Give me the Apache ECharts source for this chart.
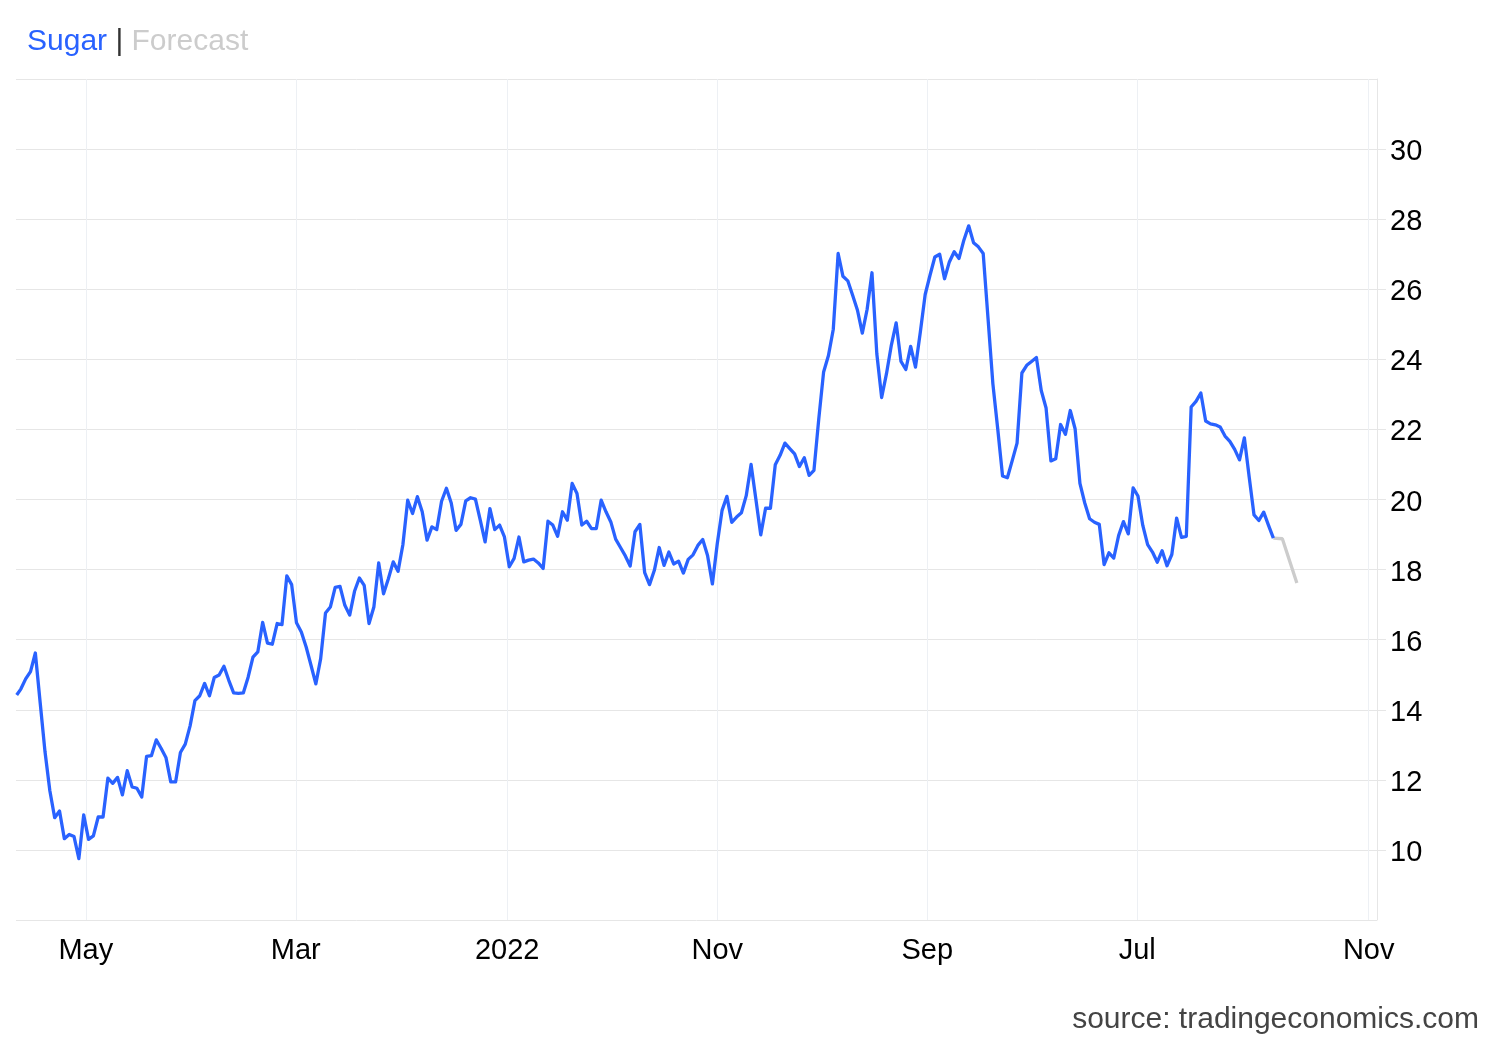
<!DOCTYPE html>
<html>
<head>
<meta charset="utf-8">
<title>Sugar</title>
<script src="https://cdn.jsdelivr.net/npm/echarts@6/dist/echarts.min.js"></script>
<style>
  html, body { margin: 0; padding: 0; background: #fff; }
  #chart { width: 1500px; height: 1040px; }
</style>
</head>
<body>
<div id="chart"></div>
<script>
// weekly closes, US cents per pound
const priceDates = [
  '2020-01-22', '2020-01-28', '2020-02-04', '2020-02-11', '2020-02-18', '2020-02-25', '2020-03-03', '2020-03-10',
  '2020-03-17', '2020-03-24', '2020-03-31', '2020-04-07', '2020-04-14', '2020-04-21', '2020-04-28', '2020-05-05',
  '2020-05-12', '2020-05-19', '2020-05-26', '2020-06-02', '2020-06-09', '2020-06-16', '2020-06-23', '2020-06-30',
  '2020-07-07', '2020-07-14', '2020-07-21', '2020-07-28', '2020-08-04', '2020-08-11', '2020-08-18', '2020-08-25',
  '2020-09-01', '2020-09-08', '2020-09-15', '2020-09-22', '2020-09-29', '2020-10-06', '2020-10-13', '2020-10-20',
  '2020-10-27', '2020-11-03', '2020-11-10', '2020-11-17', '2020-11-24', '2020-12-01', '2020-12-08', '2020-12-15',
  '2020-12-22', '2020-12-29',
  '2021-01-05', '2021-01-12', '2021-01-19', '2021-01-26', '2021-02-02', '2021-02-09', '2021-02-16', '2021-02-23',
  '2021-03-02', '2021-03-09', '2021-03-16', '2021-03-23', '2021-03-30', '2021-04-06', '2021-04-13', '2021-04-20',
  '2021-04-27', '2021-05-04', '2021-05-11', '2021-05-18', '2021-05-25', '2021-06-01', '2021-06-08', '2021-06-15',
  '2021-06-22', '2021-06-29', '2021-07-06', '2021-07-13', '2021-07-20', '2021-07-27', '2021-08-03', '2021-08-10',
  '2021-08-17', '2021-08-24', '2021-08-31', '2021-09-07', '2021-09-14', '2021-09-21', '2021-09-28', '2021-10-05',
  '2021-10-12', '2021-10-19', '2021-10-26', '2021-11-02', '2021-11-09', '2021-11-16', '2021-11-23', '2021-11-30',
  '2021-12-07', '2021-12-14', '2021-12-21', '2021-12-28',
  '2022-01-04', '2022-01-11', '2022-01-18', '2022-01-25', '2022-02-01', '2022-02-08', '2022-02-15', '2022-02-22',
  '2022-03-01', '2022-03-08', '2022-03-15', '2022-03-22', '2022-03-29', '2022-04-05', '2022-04-12', '2022-04-19',
  '2022-04-26', '2022-05-03', '2022-05-10', '2022-05-17', '2022-05-24', '2022-05-31', '2022-06-07', '2022-06-14',
  '2022-06-21', '2022-06-28', '2022-07-05', '2022-07-12', '2022-07-19', '2022-07-26', '2022-08-02', '2022-08-09',
  '2022-08-16', '2022-08-23', '2022-08-30', '2022-09-06', '2022-09-13', '2022-09-20', '2022-09-27', '2022-10-04',
  '2022-10-11', '2022-10-18', '2022-10-25', '2022-11-01', '2022-11-08', '2022-11-15', '2022-11-22', '2022-11-29',
  '2022-12-06', '2022-12-13', '2022-12-20', '2022-12-27',
  '2023-01-03', '2023-01-10', '2023-01-17', '2023-01-24', '2023-01-31', '2023-02-07', '2023-02-14', '2023-02-21',
  '2023-02-28', '2023-03-07', '2023-03-14', '2023-03-21', '2023-03-28', '2023-04-04', '2023-04-11', '2023-04-18',
  '2023-04-25', '2023-05-02', '2023-05-09', '2023-05-16', '2023-05-23', '2023-05-30', '2023-06-06', '2023-06-13',
  '2023-06-20', '2023-06-27', '2023-07-04', '2023-07-11', '2023-07-18', '2023-07-25', '2023-08-01', '2023-08-08',
  '2023-08-15', '2023-08-22', '2023-08-29', '2023-09-05', '2023-09-12', '2023-09-19', '2023-09-26', '2023-10-03',
  '2023-10-10', '2023-10-17', '2023-10-24', '2023-10-31', '2023-11-07', '2023-11-14', '2023-11-21', '2023-11-28',
  '2023-12-05', '2023-12-12', '2023-12-19', '2023-12-26',
  '2024-01-02', '2024-01-09', '2024-01-16', '2024-01-23', '2024-01-30', '2024-02-06', '2024-02-13', '2024-02-20',
  '2024-02-27', '2024-03-05', '2024-03-12', '2024-03-19', '2024-03-26', '2024-04-02', '2024-04-09', '2024-04-16',
  '2024-04-23', '2024-04-30', '2024-05-07', '2024-05-14', '2024-05-21', '2024-05-28', '2024-06-04', '2024-06-11',
  '2024-06-18', '2024-06-25', '2024-07-02', '2024-07-09', '2024-07-16', '2024-07-23', '2024-07-30', '2024-08-06',
  '2024-08-13', '2024-08-20', '2024-08-27', '2024-09-03', '2024-09-10', '2024-09-17', '2024-09-24', '2024-10-01',
  '2024-10-08', '2024-10-15', '2024-10-22', '2024-10-29', '2024-11-05', '2024-11-12', '2024-11-19', '2024-11-26',
  '2024-12-03', '2024-12-10', '2024-12-17', '2024-12-24', '2024-12-31',
  '2025-01-07', '2025-01-14'
];

const prices = [
  14.42, 14.59, 14.88, 15.09, 15.62, 14.2, 12.8, 11.69,
  10.92, 11.11, 10.32, 10.44, 10.38, 9.75, 11.0, 10.3,
  10.4, 10.94, 10.94, 12.05, 11.9, 12.07, 11.57, 12.26,
  11.8, 11.76, 11.51, 12.67, 12.69, 13.14, 12.9, 12.64,
  11.94, 11.94, 12.78, 13.02, 13.54, 14.26, 14.4, 14.75,
  14.4, 14.92, 14.99, 15.24, 14.84, 14.48, 14.47, 14.48,
  14.93, 15.5,
  15.65, 16.49, 15.9, 15.87, 16.46, 16.43, 17.82, 17.57,
  16.48, 16.22, 15.79, 15.27, 14.74, 15.46, 16.76, 16.93,
  17.49, 17.52, 16.98, 16.7, 17.38, 17.76, 17.55, 16.46,
  16.93, 18.19, 17.31, 17.74, 18.22, 17.95, 18.71, 19.98,
  19.6, 20.08, 19.65, 18.84, 19.22, 19.14, 19.95, 20.32,
  19.9, 19.12, 19.29, 19.96, 20.05, 20.01, 19.41, 18.79,
  19.74, 19.14, 19.27, 18.93,
  18.08, 18.32, 18.93, 18.22, 18.27, 18.3, 18.19, 18.03,
  19.38, 19.27, 18.95, 19.65, 19.41, 20.46, 20.17, 19.27,
  19.38, 19.17, 19.17, 19.98, 19.65, 19.36, 18.87, 18.63,
  18.39, 18.1, 19.08, 19.29, 17.91, 17.57, 17.98, 18.63,
  18.12, 18.5, 18.16, 18.24, 17.9, 18.29, 18.42, 18.69,
  18.86, 18.4, 17.59, 18.73, 19.69, 20.09, 19.35, 19.5,
  19.62, 20.11, 21.0, 20.0,
  18.99, 19.75, 19.75, 20.99, 21.26, 21.61, 21.45, 21.3,
  20.94, 21.19, 20.69, 20.83, 22.3, 23.64, 24.11, 24.86,
  27.02, 26.37, 26.24, 25.83, 25.4, 24.75, 25.43, 26.47,
  24.16, 22.91, 23.59, 24.4, 25.04, 23.94, 23.71, 24.37,
  23.78, 24.78, 25.85, 26.4, 26.92, 27.0, 26.3, 26.78,
  27.07, 26.88, 27.4, 27.81, 27.33, 27.21, 27.02, 25.16,
  23.3, 22.02, 20.67, 20.62,
  21.11, 21.61, 23.61, 23.83, 23.94, 24.05, 23.11, 22.61,
  21.1, 21.16, 22.14, 21.86, 22.54, 22.02, 20.46, 19.9,
  19.45, 19.35, 19.29, 18.14, 18.48, 18.33, 18.97, 19.37,
  19.02, 20.33, 20.1, 19.26, 18.71, 18.5, 18.21, 18.54,
  18.11, 18.43, 19.47, 18.92, 18.95, 22.64, 22.8, 23.04,
  22.24, 22.16, 22.13, 22.07, 21.81, 21.66, 21.43, 21.13,
  21.76, 20.64, 19.56, 19.4, 19.64,
  19.26, 18.9
];

const forecastDates = ['2025-01-14', '2025-01-27', '2025-02-17'];
const forecastValues = [18.9, 18.88, 17.62];

const tickDates = ['2020-05-01', '2021-03-01', '2022-01-01', '2022-11-01', '2023-09-01', '2024-07-01', '2025-06-01'];
const tickLabels = ['May', 'Mar', '2022', 'Nov', 'Sep', 'Jul', 'Nov'];

const FONT = 'Arial, "Liberation Sans", sans-serif';
const BLUE = '#2962ff';
const DAY = 86400000;

const toTime = d => +echarts.time.parse(d);
const tickTimes = tickDates.map(toTime);

const chart = echarts.init(document.getElementById('chart'), null, { renderer: 'canvas' });

chart.setOption({
  animation: false,
  backgroundColor: '#fff',
  title: [
    {
      text: '{a|Sugar} {b||} {c|Forecast}',
      left: 27,
      top: 27,
      padding: 0,
      textStyle: {
        fontFamily: FONT,
        fontSize: 30,
        fontWeight: 'normal',
        rich: {
          a: { color: BLUE, fontSize: 30, fontFamily: FONT },
          b: { color: '#333', fontSize: 30, fontFamily: FONT },
          c: { color: '#cccccc', fontSize: 30, fontFamily: FONT }
        }
      }
    },
    {
      text: 'source: tradingeconomics.com',
      right: 21,
      top: 1005,
      padding: 0,
      textStyle: { fontFamily: FONT, fontSize: 30, fontWeight: 'normal', color: '#444' }
    }
  ],
  grid: { left: 16, right: 123, top: 79, bottom: 120, outerBoundsMode: 'none' },
  xAxis: {
    type: 'value',
    min: toTime('2020-01-21'),
    max: toTime('2025-06-13'),
    axisLine: { show: false },
    axisTick: { show: false, customValues: tickTimes },
    splitLine: { show: true, lineStyle: { color: '#edf0f4', width: 1 } },
    axisLabel: {
      customValues: tickTimes,
      color: '#000',
      fontFamily: FONT,
      fontSize: 29,
      margin: 16,
      formatter: value => {
        const i = tickTimes.findIndex(t => Math.abs(t - value) < DAY);
        return i >= 0 ? tickLabels[i] : '';
      }
    }
  },
  yAxis: {
    type: 'value',
    position: 'right',
    min: 8,
    max: 32,
    interval: 2,
    axisLine: { show: true, lineStyle: { color: '#e6e6e6', width: 1 } },
    axisTick: { show: true, inside: false, length: 9, lineStyle: { color: '#e6e6e6' } },
    splitLine: { lineStyle: { color: '#e6e6e6', width: 1 } },
    axisLabel: {
      color: '#000',
      fontFamily: FONT,
      fontSize: 29,
      margin: 13,
      verticalAlign: 'top',
      lineHeight: 6,
      showMinLabel: false,
      showMaxLabel: false
    }
  },
  series: [
    {
      name: 'Forecast',
      type: 'line',
      data: forecastDates.map((d, i) => [toTime(d), forecastValues[i]]),
      showSymbol: false,
      lineStyle: { color: '#cccccc', width: 3.3 },
      z: 2
    },
    {
      name: 'Sugar',
      type: 'line',
      data: priceDates.map((d, i) => [toTime(d), prices[i]]),
      showSymbol: false,
      lineStyle: { color: BLUE, width: 3.3, join: 'round' },
      z: 3
    }
  ]
});

window.addEventListener('resize', () => chart.resize());
</script>
</body>
</html>
